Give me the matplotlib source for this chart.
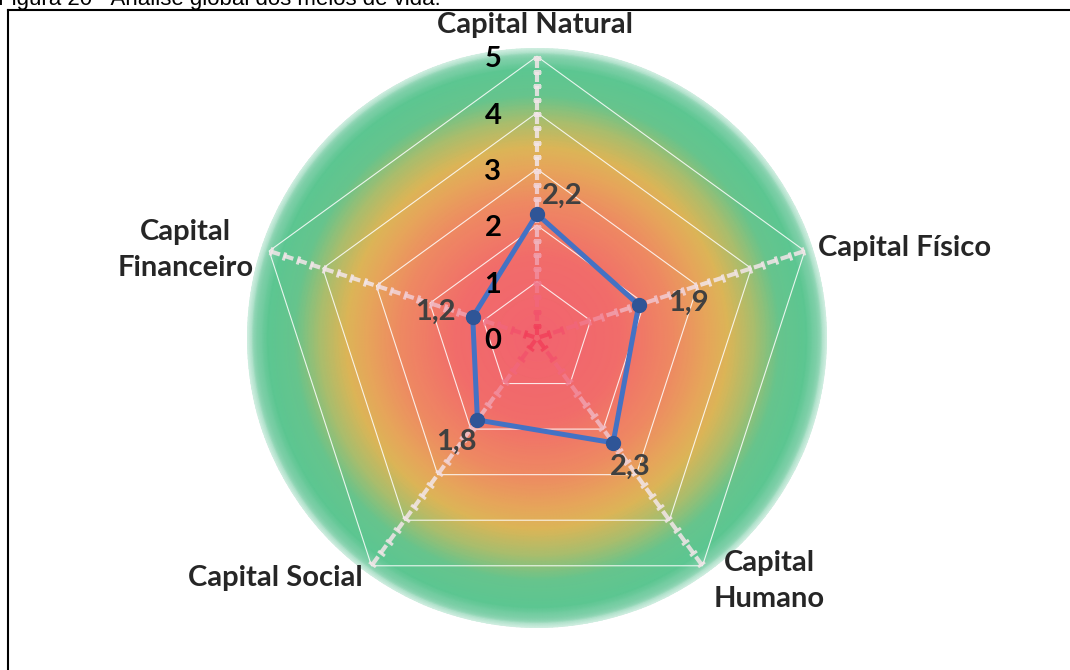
import numpy as np
import matplotlib
matplotlib.use("Agg")
import matplotlib.pyplot as plt
from matplotlib.colors import LinearSegmentedColormap
from matplotlib.lines import Line2D

# Radar data: Capital scores (0-5)
categories = ["Capital Natural", "Capital Físico", "Capital\nHumano",
              "Capital Social", "Capital\nFinanceiro"]
values = [2.2, 1.9, 2.3, 1.8, 1.2]
value_labels = ["2,2", "1,9", "2,3", "1,8", "1,2"]
rings = [1, 2, 3, 4, 5]
ring_labels = ["0", "1", "2", "3", "4", "5"]

plt.rcParams['font.family'] = ['Lato', 'DejaVu Sans']

fig = plt.figure(figsize=(10.7, 6.7), dpi=100)
ax = fig.add_axes([0.2308, 0.0627, 0.5421, 0.8657], projection='polar')
ax.set_theta_zero_location('N')
ax.set_theta_direction(-1)
rmax = 5.15
ax.set_ylim(0, rmax)
ax.grid(False)
ax.set_xticks([])
ax.set_yticks([])
ax.spines['polar'].set_visible(False)
ax.patch.set_alpha(0)

# radial gradient background (red centre -> yellow -> green rim)
bg = LinearSegmentedColormap.from_list("bg", [
    (0.00, '#F2636F'), (0.28, '#F16C6A'), (0.47, '#EE8962'),
    (0.59, '#E6A65A'), (0.66, '#DCB557'), (0.75, '#AABD6D'),
    (0.84, '#66C48D'), (0.93, '#5CC691'), (0.975, '#86D2AE'),
    (1.00, '#D2EFE2')])
th = np.linspace(0, 2 * np.pi, 361)
rr = np.linspace(0, rmax, 200)
T, RR = np.meshgrid(th, rr)
ax.pcolormesh(T, RR, RR / rmax, cmap=bg, shading='gouraud', zorder=0)

n = len(categories)
angles = np.arange(n) * 2 * np.pi / n

# grid pentagons
for r in rings:
    ax.plot(np.append(angles, angles[0]), [r] * (n + 1), color='white',
            lw=0.8, alpha=0.85, zorder=1)

# ruler-style spokes
spoke = LinearSegmentedColormap.from_list("spoke", ['#F2405A', '#F0B4BF', '#F3E6E9'])
for a in angles:
    rot = 90 - np.degrees(a)
    for r0 in np.arange(0, 5, 0.25):
        c = spoke(min(r0 / 3.0, 1.0))
        ax.plot([a, a], [r0 + 0.05, r0 + 0.22], color=c, lw=3,
                solid_capstyle='butt', alpha=0.85, zorder=2)
        ax.plot([a], [r0 + 0.22], marker=(2, 0, rot), ms=6, mew=2.2,
                color=c, alpha=0.85, zorder=2)

# data polygon
ax.plot(np.append(angles, angles[0]), values + values[:1], color='#4472C4',
        lw=3.6, zorder=4)
ax.plot(angles, values, 'o', color='#2F5597', ms=10, zorder=5)

# value labels
lbl_off = [(25, 18), (50, 2), (17, -24), (-21, -22), (-37, 5)]
for a, v, t, off in zip(angles, values, value_labels, lbl_off):
    ax.annotate(t, (a, v), xytext=off, textcoords='offset pixels',
                ha='center', va='center', fontsize=21, fontweight='bold',
                color='#404040', zorder=6)

# radial axis numbers
for i, t in enumerate(ring_labels):
    ax.annotate(t, (0, i), xytext=(-44, -3), textcoords='offset pixels',
                ha='center', va='center', fontsize=21, fontweight='bold',
                color='black', zorder=6)

# category labels
cat_off = [(-2, 31), (13, 3), (67, -15), (-9, -12), (-84, 1)]
cat_ha = ['center', 'left', 'center', 'right', 'center']
for a, t, off, ha in zip(angles, categories, cat_off, cat_ha):
    ax.annotate(t, (a, 5), xytext=off, textcoords='offset pixels',
                ha=ha, va='center', fontsize=21, fontweight='bold',
                color='#262626', linespacing=1.5, annotation_clip=False)

# caption and frame
fig.text(-0.002, 665 / 670, "Figura 20 - Análise global dos meios de vida.",
         fontsize=16, family=['Liberation Sans', 'DejaVu Sans'], va='baseline')
fig.add_artist(Line2D([8 / 1070, 1], [1 - 10 / 670] * 2,
                      transform=fig.transFigure, color='black', lw=1.5))
fig.add_artist(Line2D([8 / 1070] * 2, [0, 1 - 10 / 670],
                      transform=fig.transFigure, color='black', lw=1.5))

fig.savefig("out.png", dpi=100)
